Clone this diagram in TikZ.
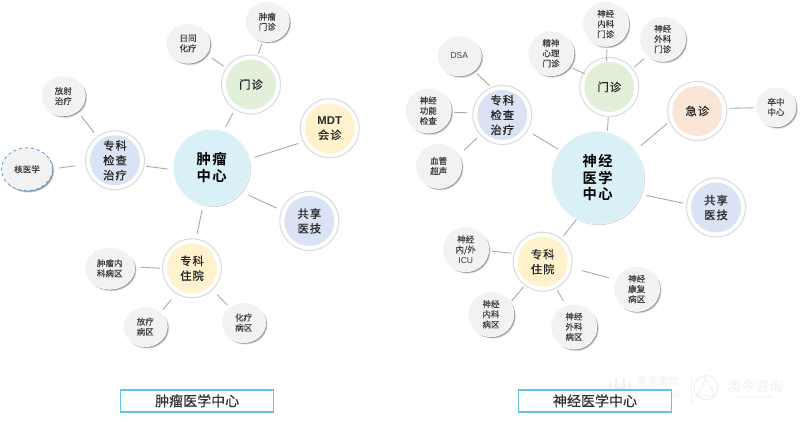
\documentclass[tikz,border=0pt]{standalone}
\usepackage{fontspec}
\setmainfont{Noto Sans CJK SC}[BoldFont={Noto Sans CJK SC Bold}]
\setsansfont{Liberation Sans}
\newfontfamily\midfont{Noto Sans CJK SC}[FakeBold=0.8,LetterSpace=9]
\newfontfamily\leaffont{Noto Sans CJK SC}[FakeBold=0.25]
\newfontfamily\hubfont{Noto Sans CJK SC Bold}[LetterSpace=10]
\newfontfamily\titlefont{Noto Sans CJK SC}[FakeBold=0.6]
\usetikzlibrary{shapes.geometric,shadows}
\definecolor{linegray}{RGB}{170,170,170}
\definecolor{ringgray}{RGB}{220,220,220}
\definecolor{leaffill}{RGB}{242,242,242}
\definecolor{leaftext}{RGB}{60,60,60}
\definecolor{hubblue}{RGB}{218,240,247}
\definecolor{midblue}{RGB}{218,227,243}
\definecolor{midgreen}{RGB}{226,240,217}
\definecolor{midyellow}{RGB}{255,242,204}
\definecolor{midorange}{RGB}{251,229,214}
\definecolor{framecyan}{RGB}{98,196,232}
\definecolor{dashblue}{RGB}{91,155,213}
\definecolor{markgray}{RGB}{236,239,244}
\tikzset{
  softshadow/.style={general shadow={shadow xshift=1.8pt,shadow yshift=-1.8pt,fill=black,opacity=.16},
                     general shadow={shadow xshift=1pt,shadow yshift=-1pt,fill=black,opacity=.32}},
  leaf/.style={ellipse,inner sep=0pt,minimum width=#1,minimum height=40pt,fill=leaffill,draw=white,line width=.6pt,
     softshadow,text=leaftext,font=\leaffont\fontsize{8.5}{10.2}\selectfont,align=center},
  leaf/.default=44pt,
  tallleaf/.style={leaf=46pt,minimum height=45pt},
  mid/.style={circle,inner sep=0pt,minimum size=59pt,fill=white,draw=ringgray,line width=1.1pt,path picture={
     \fill[#1] (path picture bounding box.center) circle (25pt);},
     text=black!85,font=\midfont\fontsize{11.3}{14.8}\selectfont,align=center},
  hub/.style={circle,inner sep=0pt,fill=hubblue,draw=white,line width=.5pt,
     general shadow={shadow xshift=.8pt,shadow yshift=-.8pt,fill=black,opacity=.22},
     text=black,font=\hubfont\fontsize{14.3}{16.8}\selectfont,align=center},
  conn/.style={draw=linegray,line width=.9pt},
  titlebox/.style={rectangle,inner sep=0pt,fill=white,draw=framecyan,line width=1.4pt,
     general shadow={shadow xshift=.6pt,shadow yshift=-.6pt,fill=black,opacity=.2},
     minimum width=#1,minimum height=22pt,text=black!80,font=\titlefont\fontsize{14}{16}\selectfont},
  markhan/.style={text=markgray,inner sep=0pt},
}
\begin{document}
\begin{tikzpicture}[x=1pt,y=-1pt]
\useasboundingbox (0,0) rectangle (800,422);
% watermark
\node[markhan,font=\fontsize{10.5}{12}\selectfont] (w1) at (657.5,382) {香港澳华};
\node[markhan,font=\sffamily\fontsize{9}{10}\selectfont] (w2) at (657,394) {HK AOHUA};
\node[markhan,font=\fontsize{14}{16}\selectfont] (w3) at (755,386.5) {澳今咨询};
\node[markhan,font=\sffamily\bfseries\fontsize{3.6}{4}\selectfont] (w4) at (755,397) {AOJIN CONSULTING};
\draw[markgray,line width=.8pt] (691.7,377)--(691.7,403);
\draw[markgray,line width=1pt] (706,387.7) circle (12);
\draw[markgray,line width=1pt] (706,378)--(697,396)--(715,396)--cycle;
\draw[markgray,line width=1.6pt] (610,382)--(610,393)--(630,393)--(630,382) (616,378)--(616,388)--(624,388)--(624,378);
% left
\node[hub,minimum size=77pt] (lc) at (211.7,167.7) {肿瘤\\中心};
\node[mid=midgreen] (lm) at (251,84.5) {门诊};
\node[mid=midyellow] (ld) at (329.7,128.3) {{\sffamily\bfseries MDT}\\会诊};
\node[mid=midblue] (ls) at (309.3,221) {共享\\医技};
\node[mid=midblue] (lj) at (115,160.3) {专科\\检查\\治疗};
\node[mid=midyellow] (lz) at (192,268.3) {专科\\住院};
\node[leaf] (l1) at (267.3,21.7) {肿瘤\\门诊};
\node[leaf] (l2) at (188,43.3) {日间\\化疗};
\node[leaf] (l3) at (63.3,96) {放射\\治疗};
\node[leaf=51pt,minimum height=43pt,draw=dashblue,dashed,line width=.8pt] (l4) at (27,169.3) {核医学};
\node[leaf=50pt,minimum height=42pt] (l5) at (109.7,268.3) {肿瘤内\\科病区};
\node[leaf] (l6) at (145.3,326.7) {放疗\\病区};
\node[leaf] (l7) at (243.7,322.7) {化疗\\病区};
\node[titlebox=153pt] (lt) at (197.2,400.8) {肿瘤医学中心};
\draw[conn,shorten <=4.5pt,shorten >=3.4pt] (lc.72)--(lm.237);
\draw[conn,shorten <=5.4pt,shorten >=5pt] (lc.13.7)--(ld.207.5);
\draw[conn,shorten <=7.4pt,shorten >=5pt] (lc.-39.2)--(ls.159.8);
\draw[conn,shorten <=4.6pt,shorten >=1.5pt] (lc.183.5)--(lj.-11.9);
\draw[conn,shorten <=4.8pt,shorten >=4.8pt] (lc.257.5)--(lz.82);
\draw[conn,shorten <=1.5pt,shorten >=2pt] (lm.77.5)--(l1.257.5);
\draw[conn,shorten <=2.8pt,shorten >=6.4pt] (lm.146.6)--(l2.-31.8);
\draw[conn,shorten <=4.7pt,shorten >=5.5pt] (lj.127.9)--(l3.-47.6);
\draw[conn,shorten <=10.2pt,shorten >=6.5pt] (lj.188.3)--(l4.1.8);
\draw[conn,shorten <=2.2pt,shorten >=5.6pt] (lz.180)--(l5.3);
\draw[conn,shorten <=7.4pt,shorten >=3.5pt] (lz.238.4)--(l6.43.8);
\draw[conn,shorten <=6.4pt,shorten >=3pt] (lz.-46.5)--(l7.133.3);
% right
\node[hub,minimum size=93pt] (rc) at (597.7,177.7) {神经\\医学\\中心};
\node[mid=midgreen] (rm) at (609.3,87) {门诊};
\node[mid=midorange] (re) at (697.3,111) {急诊};
\node[mid=midblue] (rs) at (716,207.5) {共享\\医技};
\node[mid=midblue] (rj) at (502.3,115) {专科\\检查\\治疗};
\node[mid=midyellow] (rz) at (542.7,261.7) {专科\\住院};
\node[tallleaf] (r1) at (605.7,24) {神经\\内科\\门诊};
\node[tallleaf] (r2) at (662.7,39) {神经\\外科\\门诊};
\node[tallleaf] (r3) at (551,53.3) {精神\\心理\\门诊};
\node[leaf] (r4) at (459.3,56) {\sffamily DSA};
\node[tallleaf] (r5) at (428.3,110.7) {神经\\功能\\检查};
\node[tallleaf] (r6) at (438.7,166) {血管\\超声};
\node[leaf=40pt] (r7) at (776,107) {卒中\\中心};
\node[tallleaf] (r8) at (465.7,249.3) {神经\\内/外\\{\sffamily ICU}};
\node[tallleaf] (r9) at (491,314.3) {神经\\内科\\病区};
\node[tallleaf] (r10) at (574,326.7) {神经\\外科\\病区};
\node[tallleaf] (r11) at (636.7,289) {神经\\康复\\病区};
\node[titlebox=152.5pt] (rt) at (595,400.8) {神经医学中心};
\draw[conn,shorten <=1.4pt,shorten >=0pt] (rc.78.8)--(rm.268);
\draw[conn,shorten <=6.9pt,shorten >=3.1pt] (rc.36.4)--(re.201.6);
\draw[conn,shorten <=5pt,shorten >=3.4pt] (rc.-21.2)--(rs.173.4);
\draw[conn,shorten <=2.1pt,shorten >=6.2pt] (rc.144.8)--(rj.-32.8);
\draw[conn,shorten <=0pt,shorten >=2.8pt] (rc.243.8)--(rz.51.8);
\draw[conn,shorten <=-4pt,shorten >=3pt] (rm.95.2)--(r1.-87);
\draw[conn,shorten <=1.8pt,shorten >=4pt] (rm.38)--(r2.227.4);
\draw[conn,shorten <=-2.5pt,shorten >=3pt] (rm.152.9)--(r3.-36);
\draw[conn,shorten <=2pt,shorten >=3.5pt] (rj.112.9)--(r4.-45);
\draw[conn,shorten <=4.9pt,shorten >=2.8pt] (rj.176)--(r5.-4.5);
\draw[conn,shorten <=4.5pt,shorten >=6.8pt] (rj.222.6)--(r6.28);
\draw[conn,shorten <=3pt,shorten >=2pt] (re.5.3)--(r7.182.6);
\draw[conn,shorten <=2.7pt,shorten >=3pt] (rz.164.3)--(r8.-4.4);
\draw[conn,shorten <=1.5pt,shorten >=1.4pt] (rz.233.6)--(r9.32.3);
\draw[conn,shorten <=2pt,shorten >=5pt] (rz.-63.7)--(r10.111);
\draw[conn,shorten <=10pt,shorten >=6.8pt] (rz.-12.1)--(r11.156.9);
\end{tikzpicture}
\end{document}
